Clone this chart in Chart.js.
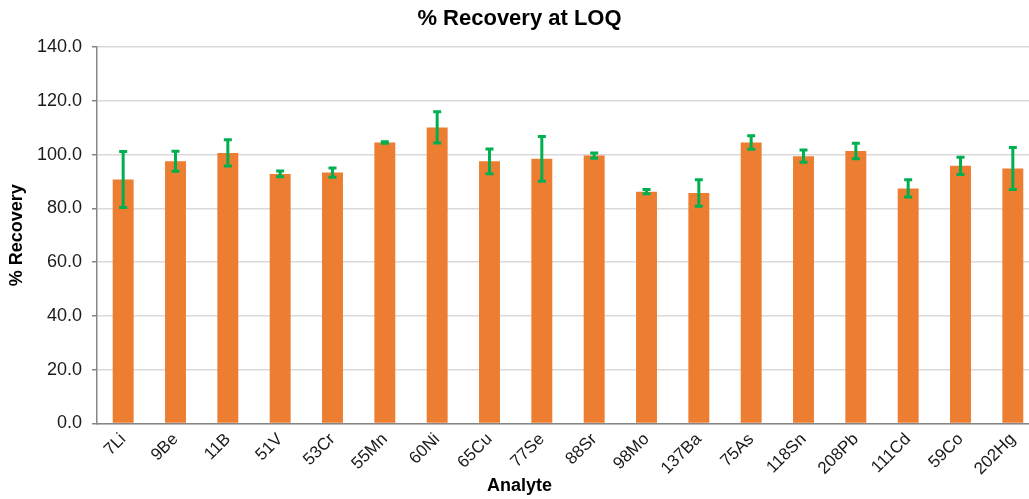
<!DOCTYPE html>
<html>
<head>
<meta charset="utf-8">
<script src="https://cdn.jsdelivr.net/npm/chart.js@4.4.0/dist/chart.umd.min.js"></script>
<style>
  html, body { margin: 0; padding: 0; background: #ffffff; overflow: hidden; }
  #wrap { width: 1050px; height: 499px; }
</style>
</head>
<body>
<div id="wrap"><canvas id="c" width="1050" height="499"></canvas></div>
<script>
const categories = ['7Li','9Be','11B','51V','53Cr','55Mn','60Ni','65Cu','77Se','88Sr','98Mo','137Ba','75As','118Sn','208Pb','111Cd','59Co','202Hg'];
const recovery = [90.7, 97.5, 100.6, 92.8, 93.3, 104.5, 110.1, 97.5, 98.4, 99.6, 86.2, 85.7, 104.5, 99.4, 101.3, 87.4, 95.8, 94.8];
const errors = [10.4, 3.7, 4.9, 1.1, 1.7, 0.3, 5.8, 4.6, 8.3, 1.0, 0.8, 4.9, 2.5, 2.3, 2.9, 3.2, 3.2, 7.8];
const yTicks = [0, 20, 40, 60, 80, 100, 120, 140];

const FONT = '"Liberation Sans", Arial, sans-serif';

const errorBars = {
  id: 'errorBars',
  afterDatasetsDraw(chart) {
    const ctx = chart.ctx;
    const meta = chart.getDatasetMeta(0);
    const y = chart.scales.y;
    ctx.save();
    ctx.strokeStyle = '#00B050';
    ctx.lineWidth = 3;
    ctx.lineCap = 'butt';
    meta.data.forEach((bar, i) => {
      const x = bar.x;
      const top = y.getPixelForValue(recovery[i] + errors[i]);
      const bot = y.getPixelForValue(recovery[i] - errors[i]);
      ctx.beginPath();
      ctx.moveTo(x, top); ctx.lineTo(x, bot);
      ctx.moveTo(x - 4, top); ctx.lineTo(x + 4, top);
      ctx.moveTo(x - 4, bot); ctx.lineTo(x + 4, bot);
      ctx.stroke();
    });
    ctx.restore();
  }
};

new Chart(document.getElementById('c'), {
  type: 'bar',
  data: {
    labels: categories,
    datasets: [{
      data: recovery,
      backgroundColor: '#ED7D31',
      borderWidth: 0,
      categoryPercentage: 1.0,
      barPercentage: 0.4
    }]
  },
  options: {
    responsive: false,
    animation: false,
    devicePixelRatio: 1,
    layout: { padding: { left: 0, right: 11, top: 0, bottom: 0 } },
    plugins: {
      legend: { display: false },
      tooltip: { enabled: false },
      title: {
        display: true,
        text: '% Recovery at LOQ',
        color: '#000000',
        font: { family: FONT, size: 22, weight: 'bold', lineHeight: 1.2 },
        padding: { top: 6, bottom: 14.6 }
      },
      subtitle: {
        display: true,
        position: 'bottom',
        text: 'Analyte',
        color: '#000000',
        font: { family: FONT, size: 18, weight: 'bold', lineHeight: 1.2 },
        padding: { top: 0, bottom: 2 }
      }
    },
    scales: {
      x: {
        grid: { display: false, drawTicks: false },
        border: { display: true, color: '#868686', width: 1.5 },
        ticks: {
          color: '#1a1a1a',
          font: { family: FONT, size: 17 },
          minRotation: 45,
          maxRotation: 45,
          autoSkip: false,
          padding: 6
        },
        afterFit(scale) { scale.height = 52; }
      },
      y: {
        min: 0,
        max: 140,
        afterBuildTicks(scale) { scale.ticks = yTicks.map(v => ({ value: v })); },
        grid: { color: '#d9d9d9', lineWidth: 1.5, tickColor: '#868686', tickLength: 5, drawTicks: true },
        border: { display: true, color: '#868686', width: 1.5 },
        ticks: {
          color: '#1a1a1a',
          font: { family: FONT, size: 18 },
          padding: 10,
          callback: (v) => Number(v).toFixed(1)
        },
        title: {
          display: true,
          text: '% Recovery',
          color: '#000000',
          font: { family: FONT, size: 18, weight: 'bold', lineHeight: 1.2 },
          padding: { top: 6, bottom: 0 }
        },
        afterFit(scale) { scale.width = 97; }
      }
    }
  },
  plugins: [errorBars]
});
</script>
</body>
</html>
